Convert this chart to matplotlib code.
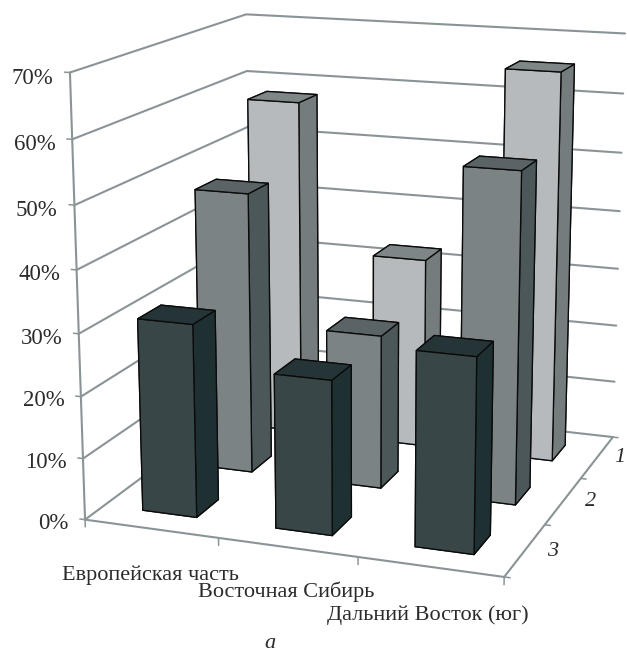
import numpy as np
import matplotlib
matplotlib.use('Agg')
import matplotlib.pyplot as plt
from mpl_toolkits.mplot3d import proj3d

plt.rcParams['font.family'] = ['Liberation Serif', 'DejaVu Serif']

regions = ['Европейская часть', 'Восточная Сибирь', 'Дальний Восток (юг)']
series_names = ['1', '2', '3']
series_1 = [57.9, 32.6, 65.6]
series_2 = [46.9, 25.5, 53.9]
series_3 = [31.2, 24.7, 30.7]
z_ticks = [0, 10, 20, 30, 40, 50, 60, 70]

# front, top and side shades per series
shades = {
    '1': ('#b6babc', '#7f8688', '#757c7e'),
    '2': ('#7b8385', '#5a6466', '#4c5759'),
    '3': ('#394648', '#253436', '#1f3032'),
}
GRID = '#8a9496'
TEXT = '#2b2b2b'
W, H = 627, 651

fig = plt.figure(figsize=(W / 100, H / 100), dpi=100)
ax = fig.add_axes([-4.6 / W, 14.0 / H, 716 / W, 716 / H], projection='3d', computed_zorder=False)
ax.set_proj_type('persp', focal_length=0.565)
ax.view_init(elev=14.455, azim=-70.082, roll=0)
ax.set_box_aspect((0.966, 0.951, 1))
ax.set_axis_off()


def line3d(xs, ys, zs, lw=1.5):
    ax.plot(xs, ys, zs, color=GRID, lw=lw, zorder=1, solid_capstyle='round')


# walls: left and back gridlines, with the z axis on the front left edge
for t in z_ticks:
    line3d([0, 0, 3], [0, 3, 3], [t, t, t])
    line3d([-0.04, 0], [0, 0], [t, t], lw=1.1)
line3d([0, 0], [0, 0], [0, 70])

# floor edges and their ticks
line3d([0, 3, 3], [0, 0, 3], [0, 0, 0])
for i in range(4):
    line3d([i, i], [0, 0], [0, -1.2], lw=1.1)
    line3d([3, 3.04], [i, i], [0, 0], lw=1.1)

bar_w, bar_d = 0.41, 0.38
rows = [(2, series_names[0], series_1), (1, series_names[1], series_2), (0, series_names[2], series_3)]
order = 2
for row, name, values in rows:
    front, top, side = shades[name]
    # faces come in the order -z, +z, -y, +y, -x, +x
    colors = [top, top, front, side, side, side]
    for i, v in enumerate(values):
        ax.bar3d(i + 0.5 - bar_w / 2, row + 0.495 - bar_d / 2, 0, bar_w, bar_d, v,
                 color=colors, shade=False, edgecolor='#0a0a0a', linewidth=0.95, zorder=order)
        order += 1

ax.set_xlim(0, 3, view_margin=0)
ax.set_ylim(0, 3, view_margin=0)
ax.set_zlim(0, 70, view_margin=0)

# z labels sit just left of the axis, placed through the current projection
for t in z_ticks:
    px, py, _ = proj3d.proj_transform(-0.125, 0, t - 1, ax.get_proj())
    ax.text2D(px, py, f'{t}%', transform=ax.transData, ha='right', va='center',
              fontsize=16.5, color=TEXT)


def label(x, y, s, **kw):
    fig.text(x / W, 1 - y / H, s, color=TEXT, ha='center', va='center', **kw)


label(150, 575, regions[0], fontsize=16)
label(286, 592, regions[1], fontsize=16)
label(428, 615, regions[2], fontsize=16)
label(620, 458, series_names[0], fontsize=16, style='italic')
label(591, 502, series_names[1], fontsize=16, style='italic')
label(553, 551, series_names[2], fontsize=16, style='italic')
label(270, 643, 'а', fontsize=16, style='italic')

fig.savefig('out.png', dpi=100)
